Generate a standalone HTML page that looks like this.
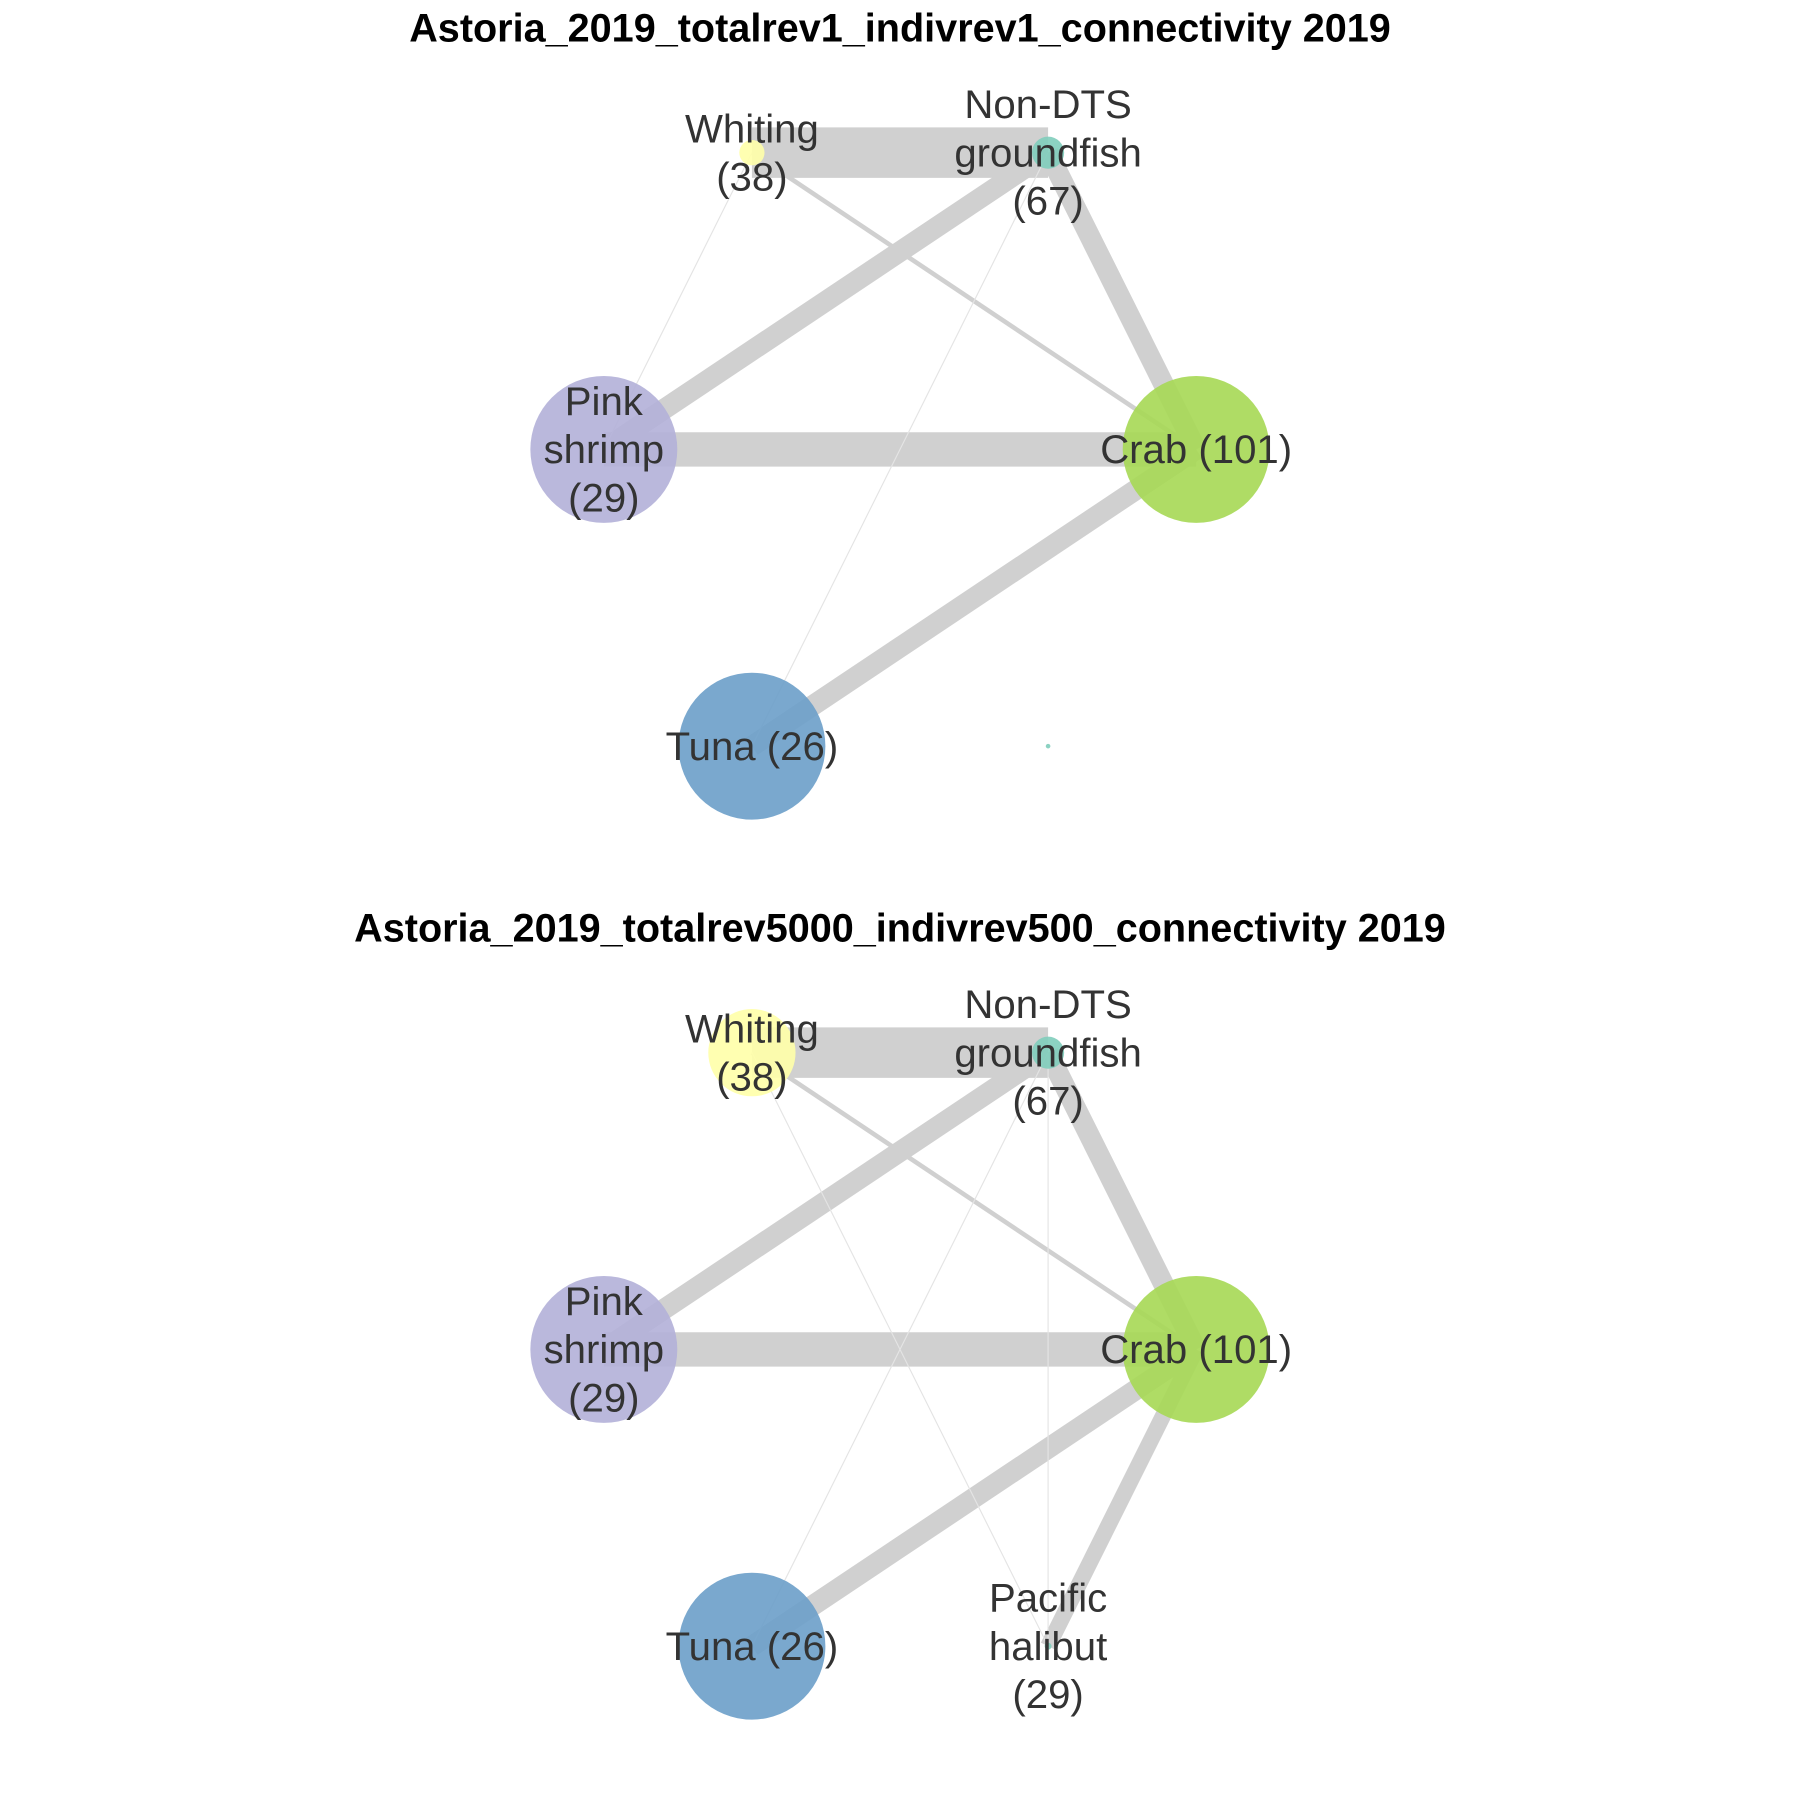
<!DOCTYPE html>
<html><head><meta charset="utf-8"><style>
html,body{margin:0;padding:0;background:#fff;}
svg{display:block;}
text{font-family:"Liberation Sans",Arial,sans-serif;}
</style></head><body>
<svg id="chart" width="1800" height="1800" viewBox="0 0 1568 1568" xmlns="http://www.w3.org/2000/svg"></svg>
<script>
const panelTitles = ["Astoria_2019_totalrev1_indivrev1_connectivity 2019", "Astoria_2019_totalrev5000_indivrev500_connectivity 2019"];
const nodeNames = ["Whiting", "Non-DTS groundfish", "Pink shrimp", "Crab", "Tuna", "Pacific halibut"];
const nodeLabels = [["Whiting","(38)"], ["Non-DTS","groundfish","(67)"], ["Pink","shrimp","(29)"], ["Crab (101)"], ["Tuna (26)"], ["Pacific","halibut","(29)"]];
const nodeGX = [1, 3, 0, 4, 1, 3];
const nodeGY = [0, 0, 1, 1, 2, 2];
const nodeColors = ["#ffffa8", "#7fcdbb", "#b3b0d8", "#a6d854", "#6b9fc9", "#7fcdbb"];
const nodeSize1 = [11, 14, 64, 64, 64, 2];
const nodeSize2 = [38, 14, 64, 64, 64, 3];
const showLabel1 = [1, 1, 1, 1, 1, 0];
const showLabel2 = [1, 1, 1, 1, 1, 1];
const edgeFrom1 = [0, 1, 2, 1, 3, 0, 0, 1];
const edgeTo1 = [1, 2, 3, 3, 4, 3, 2, 4];
const edgeW1 = [44, 18, 30, 18, 18, 4, 1, 1];
const edgeFrom2 = [0, 1, 2, 1, 3, 0, 1, 3, 0, 1];
const edgeTo2 = [1, 2, 3, 3, 4, 3, 4, 5, 5, 5];
const edgeW2 = [44, 18, 30, 18, 18, 4, 1, 14, 1, 1];

const svg = document.getElementById('chart');
const NS = "http://www.w3.org/2000/svg";
const xs = g => 526 + g * 129;
const ys = (g, p) => 133 + g * 258.5 + p * 784;
function mk(tag, attrs){const e=document.createElementNS(NS,tag);for(const k in attrs)e.setAttribute(k,attrs[k]);svg.appendChild(e);return e;}

function drawPanel(p, sizes, show, ef, et, ew){
  const t = mk('text',{x:784,y:36+p*784,'text-anchor':'middle','font-size':34.5,'font-weight':'bold',fill:'#000'});
  t.textContent = panelTitles[p];
  
  
  for(let i=0;i<ef.length;i++){
    if(ew[i]<=0) continue;
    const a=ef[i], b=et[i];
    const l = mk('line',{x1:xs(nodeGX[a]),y1:ys(nodeGY[a],p),x2:xs(nodeGX[b]),y2:ys(nodeGY[b],p),stroke:ew[i]<2?'#e4e4e4':'#d0d0d0','stroke-width':ew[i]});
    
    
  }
  for(let i=0;i<nodeNames.length;i++){
    const c = mk('circle',{cx:xs(nodeGX[i]),cy:ys(nodeGY[i],p),r:sizes[i],fill:nodeColors[i],'fill-opacity':0.9});
    
    
  }
  for(let i=0;i<nodeNames.length;i++){
    if(!show[i]) continue;
    const lines = nodeLabels[i];
    const cy = ys(nodeGY[i],p);
    const y0 = cy - (lines.length-1)*21 + 12;
    const tx = mk('text',{x:xs(nodeGX[i]),y:y0,'text-anchor':'middle','font-size':35,fill:'#333'});
    lines.forEach((s,k)=>{const ts=document.createElementNS(NS,'tspan');ts.setAttribute('x',xs(nodeGX[i]));ts.setAttribute('y',y0+k*42);ts.textContent=s;tx.appendChild(ts);});
    
    
  }
}
drawPanel(0, nodeSize1, showLabel1, edgeFrom1, edgeTo1, edgeW1);
drawPanel(1, nodeSize2, showLabel2, edgeFrom2, edgeTo2, edgeW2);
</script>
</body></html>
